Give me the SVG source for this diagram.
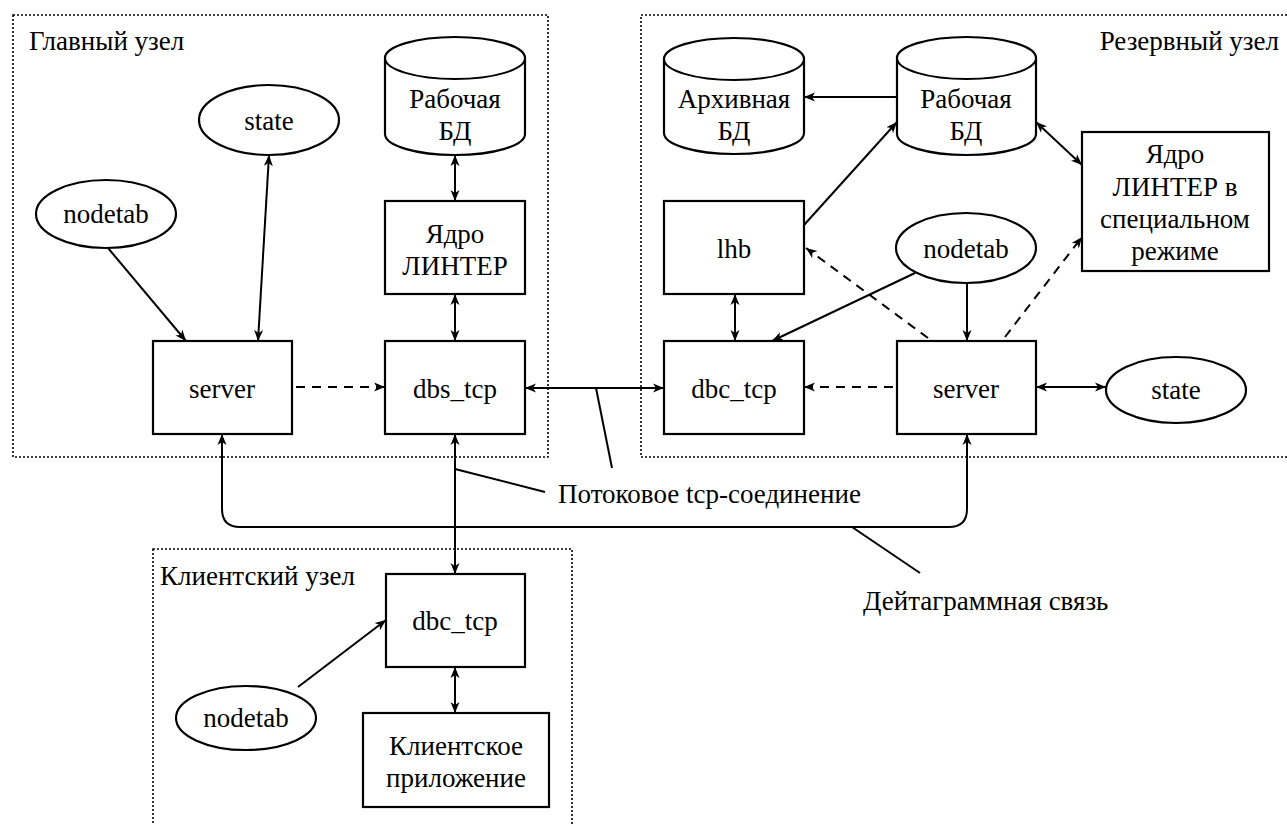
<svg xmlns="http://www.w3.org/2000/svg" width="1287" height="825" viewBox="0 0 1287 825">
<style>
text{font-family:'Liberation Serif','Times New Roman',serif;font-size:27px;fill:#000}
.c{text-anchor:middle}
.box{fill:#fff;stroke:#000;stroke-width:2.2}
.area{fill:none;stroke:#000;stroke-width:1.6;stroke-dasharray:2,2}
.ln{fill:none;stroke:#000;stroke-width:2}
.a1{marker-end:url(#ah)}
.a2{marker-start:url(#ah);marker-end:url(#ah)}
.d{stroke-dasharray:9,7}
</style>
<defs>
<marker id="ah" markerUnits="userSpaceOnUse" markerWidth="12" markerHeight="10" refX="11" refY="5" orient="auto-start-reverse">
<path d="M0,0.5 L11,5 L0,9.5 L3,5 z" fill="#000"/>
</marker>
</defs>
<rect width="1287" height="825" fill="#fff"/>
<g id="areas">
<rect class="area" x="13" y="15" width="535" height="442"/>
<rect class="area" x="641" y="15" width="670" height="442"/>
<rect class="area" x="153" y="549" width="419" height="320"/>
<text x="29" y="50">Главный узел</text>
<text x="1279" y="50" text-anchor="end">Резервный узел</text>
<text x="160" y="585">Клиентский узел</text>
</g>
<g id="connectors">
<line class="ln a2" x1="269" y1="155" x2="258" y2="341"/>
<line class="ln a1" x1="108" y1="248" x2="186" y2="341"/>
<line class="ln a2" x1="455" y1="155" x2="455" y2="201"/>
<line class="ln a2" x1="455" y1="294" x2="455" y2="341"/>
<line class="ln a1 d" x1="296" y1="387" x2="385" y2="387"/>
<line class="ln a2" x1="525" y1="388" x2="664" y2="388"/>
<line class="ln" x1="596" y1="388" x2="612" y2="468"/>
<line class="ln a1" x1="897" y1="97" x2="804" y2="97"/>
<line class="ln a2" x1="1036" y1="122" x2="1082" y2="165"/>
<line class="ln a1" x1="804" y1="225" x2="897" y2="122"/>
<line class="ln a2" x1="735" y1="294" x2="735" y2="341"/>
<line class="ln a1" x1="915" y1="273" x2="772" y2="341"/>
<line class="ln a1" x1="967" y1="283" x2="967" y2="341"/>
<line class="ln a1 d" x1="928" y1="338" x2="806" y2="248"/>
<line class="ln a1 d" x1="1005" y1="337" x2="1082" y2="237"/>
<line class="ln a1 d" x1="893" y1="387" x2="804" y2="387"/>
<line class="ln a2" x1="1036" y1="387" x2="1106" y2="387"/>
<path class="ln a2" d="M222,434 L222,509 Q222,527 240,527 L949,527 Q967,527 967,509 L967,434"/>
<line class="ln a2" x1="455" y1="434" x2="455" y2="574"/>
<line class="ln" x1="455" y1="469" x2="545" y2="492"/>
<line class="ln" x1="852" y1="527" x2="920" y2="573"/>
<line class="ln a1" x1="298" y1="687" x2="386" y2="620"/>
<line class="ln a2" x1="455" y1="667" x2="455" y2="713"/>
<text x="558" y="503">Потоковое tcp-соединение</text>
<text x="863" y="610">Дейтаграммная связь</text>
</g>
<g id="main-state">
<ellipse class="box" cx="269" cy="120" rx="70" ry="35"/>
<text class="c" x="269" y="130">state</text>
</g>
<g id="main-nodetab">
<ellipse class="box" cx="106" cy="214" rx="70" ry="34"/>
<text class="c" x="106" y="223">nodetab</text>
</g>
<g id="main-db">
<path class="box" d="M385,58 L385,134 A70,21 0 0 0 525,134 L525,58 A70,21 0 0 0 385,58 Z"/>
<path class="ln" d="M385,58 A70,21 0 0 0 525,58"/>
<text class="c" x="455" y="108">Рабочая</text>
<text class="c" x="455" y="140">БД</text>
</g>
<g id="main-core">
<rect class="box" x="385" y="201" width="140" height="93"/>
<text class="c" x="455" y="243">Ядро</text>
<text class="c" x="455" y="275">ЛИНТЕР</text>
</g>
<g id="main-server">
<rect class="box" x="153" y="341" width="139" height="93"/>
<text class="c" x="222" y="398">server</text>
</g>
<g id="main-dbs">
<rect class="box" x="385" y="341" width="140" height="93"/>
<text class="c" x="455" y="398">dbs_tcp</text>
</g>
<g id="res-archive">
<path class="box" d="M664,59 L664,133 A70,21 0 0 0 804,133 L804,59 A70,21 0 0 0 664,59 Z"/>
<path class="ln" d="M664,59 A70,21 0 0 0 804,59"/>
<text class="c" x="734" y="108">Архивная</text>
<text class="c" x="734" y="140">БД</text>
</g>
<g id="res-db">
<path class="box" d="M897,58 L897,134 A69.5,21 0 0 0 1036,134 L1036,58 A69.5,21 0 0 0 897,58 Z"/>
<path class="ln" d="M897,58 A69.5,21 0 0 0 1036,58"/>
<text class="c" x="966" y="108">Рабочая</text>
<text class="c" x="966" y="140">БД</text>
</g>
<g id="res-core">
<rect class="box" x="1082" y="132" width="187" height="139"/>
<text class="c" x="1175" y="163">Ядро</text>
<text class="c" x="1175" y="196">ЛИНТЕР в</text>
<text class="c" x="1175" y="228">специальном</text>
<text class="c" x="1175" y="260">режиме</text>
</g>
<g id="res-lhb">
<rect class="box" x="664" y="201" width="140" height="93"/>
<text class="c" x="734" y="258">lhb</text>
</g>
<g id="res-nodetab">
<ellipse class="box" cx="966" cy="248" rx="70" ry="35"/>
<text class="c" x="966" y="258">nodetab</text>
</g>
<g id="res-dbc">
<rect class="box" x="664" y="341" width="140" height="93"/>
<text class="c" x="734" y="398">dbc_tcp</text>
</g>
<g id="res-server">
<rect class="box" x="897" y="341" width="139" height="93"/>
<text class="c" x="966" y="398">server</text>
</g>
<g id="res-state">
<ellipse class="box" cx="1176" cy="390" rx="70" ry="33"/>
<text class="c" x="1176" y="399">state</text>
</g>
<g id="cl-dbc">
<rect class="box" x="386" y="574" width="139" height="93"/>
<text class="c" x="455" y="630">dbc_tcp</text>
</g>
<g id="cl-nodetab">
<ellipse class="box" cx="246" cy="718" rx="70" ry="32"/>
<text class="c" x="246" y="727">nodetab</text>
</g>
<g id="cl-app">
<rect class="box" x="363" y="713" width="186" height="94"/>
<text class="c" x="456" y="755">Клиентское</text>
<text class="c" x="456" y="787">приложение</text>
</g>
</svg>
